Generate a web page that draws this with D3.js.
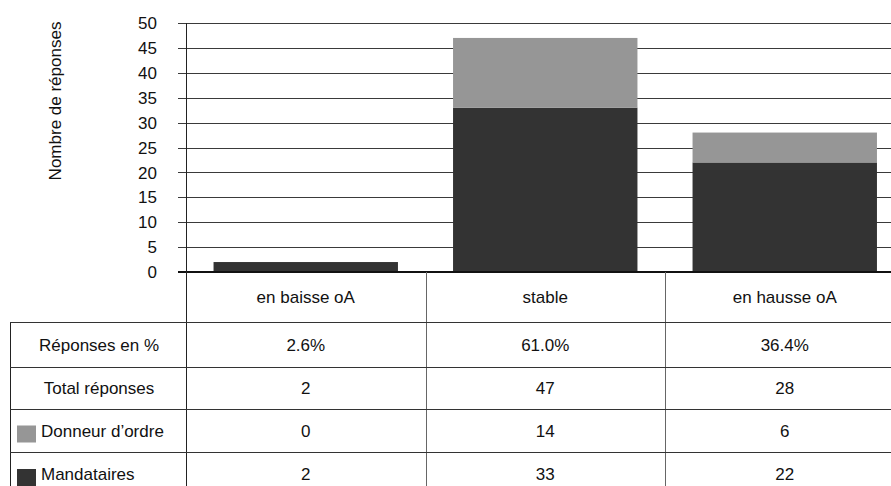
<!DOCTYPE html>
<html>
<head>
<meta charset="utf-8">
<script src="https://cdn.jsdelivr.net/npm/d3@7"></script>
<style>
  body { margin: 0; background: #fff; }
  svg text { font-family: "Liberation Sans", Arial, sans-serif; fill: #111; }
</style>
</head>
<body>
<svg class="chart"></svg>
<script>
// data
var categories = ["en baisse oA", "stable", "en hausse oA"];
var mandataires = [2, 33, 22];
var donneur = [0, 14, 6];
var totals = [2, 47, 28];
var percents = ["2.6%", "61.0%", "36.4%"];
var yTicks = [0, 5, 10, 15, 20, 25, 30, 35, 40, 45, 50];
var rowLabels = ["Réponses en %", "Total réponses", "Donneur d\u2019ordre", "Mandataires"];

var width = 891, height = 486;
var axisX = 186, colW = 239.5;
var yTop = 23, yBase = 272;
var rowY = [272, 322, 367, 409, 452, 497];
var darkCol = "#333333", lightCol = "#969696";
var fontSize = 17;

var svg = d3.select(".chart").attr("width", width).attr("height", height);

var xScale = d3.scaleBand()
  .domain(categories)
  .range([axisX, axisX + 3 * colW])
  .padding(0);

var yScale = d3.scaleLinear()
  .domain([0, 50])
  .range([yBase, yTop]);

// gridlines
svg.append("g").selectAll("line").data(yTicks.filter(d => d > 0))
  .enter().append("line")
  .attr("x1", axisX - 8).attr("x2", width)
  .attr("y1", d => Math.round(yScale(d)) + 0.5)
  .attr("y2", d => Math.round(yScale(d)) + 0.5)
  .style("stroke", "#3a3a3a").style("stroke-width", 1);

// tick labels
svg.append("g").selectAll("text").data(yTicks)
  .enter().append("text")
  .attr("x", 157)
  .attr("y", d => yScale(d))
  .attr("dy", "0.36em")
  .style("text-anchor", "end")
  .style("font-size", fontSize + "px")
  .text(d => d);

// y axis title
svg.append("text")
  .attr("transform", "translate(61,101) rotate(-90)")
  .style("text-anchor", "middle")
  .style("font-size", fontSize + "px")
  .text("Nombre de réponses");

// stacked bars
var barW = colW * 0.77;
var stacked = categories.map((c, i) => ({ cat: c, m: mandataires[i], d: donneur[i] }));

svg.append("g").selectAll("rect").data(stacked)
  .enter().append("rect")
  .attr("x", d => xScale(d.cat) + (xScale.bandwidth() - barW) / 2)
  .attr("y", d => yScale(d.m))
  .attr("width", barW)
  .attr("height", d => yScale(0) - yScale(d.m))
  .style("fill", darkCol);

svg.append("g").selectAll("rect").data(stacked.filter(d => d.d > 0))
  .enter().append("rect")
  .attr("x", d => xScale(d.cat) + (xScale.bandwidth() - barW) / 2)
  .attr("y", d => yScale(d.m + d.d))
  .attr("width", barW)
  .attr("height", d => yScale(d.m) - yScale(d.m + d.d))
  .style("fill", lightCol);

// baseline
svg.append("line")
  .attr("x1", axisX - 8).attr("x2", width)
  .attr("y1", yBase).attr("y2", yBase)
  .style("stroke", "#111").style("stroke-width", 2);

// axis line, runs down through the table
svg.append("line")
  .attr("x1", axisX + 0.5).attr("x2", axisX + 0.5)
  .attr("y1", yTop).attr("y2", height)
  .style("stroke", "#222").style("stroke-width", 1);

// table: column separators
svg.append("g").selectAll("line").data(categories.slice(1))
  .enter().append("line")
  .attr("x1", d => Math.round(xScale(d)) + 0.5)
  .attr("x2", d => Math.round(xScale(d)) + 0.5)
  .attr("y1", yBase).attr("y2", height)
  .style("stroke", "#666").style("stroke-width", 1);

// table: left border
svg.append("line")
  .attr("x1", 10.5).attr("x2", 10.5)
  .attr("y1", rowY[1]).attr("y2", height)
  .style("stroke", "#222").style("stroke-width", 1);

// table: row lines
svg.append("g").selectAll("line").data(rowY.slice(1, 5))
  .enter().append("line")
  .attr("x1", 10).attr("x2", width)
  .attr("y1", d => d + 0.5).attr("y2", d => d + 0.5)
  .style("stroke", "#333").style("stroke-width", 1);

// header row: categories
svg.append("g").selectAll("text").data(categories)
  .enter().append("text")
  .attr("x", d => xScale(d) + xScale.bandwidth() / 2)
  .attr("y", (rowY[0] + rowY[1]) / 2)
  .attr("dy", "0.36em")
  .style("text-anchor", "middle")
  .style("font-size", fontSize + "px")
  .text(d => d);

// value rows
var rows = [percents, totals, donneur, mandataires];
rows.forEach((vals, r) => {
  var cy = (rowY[r + 1] + rowY[r + 2]) / 2;
  if (r == 3) cy = 474;
  svg.append("g").selectAll("text").data(vals)
    .enter().append("text")
    .attr("x", (d, i) => xScale(categories[i]) + xScale.bandwidth() / 2)
    .attr("y", cy)
    .attr("dy", "0.36em")
    .style("text-anchor", "middle")
    .style("font-size", fontSize + "px")
    .text(d => d);

  var lbl = svg.append("text")
    .attr("y", cy)
    .attr("dy", "0.36em")
    .style("font-size", fontSize + "px")
    .text(rowLabels[r]);
  if (r < 2) {
    lbl.attr("x", 99).style("text-anchor", "middle");
  } else {
    lbl.attr("x", 41).style("text-anchor", "start");
    svg.append("rect")
      .attr("x", 17).attr("y", cy - 5)
      .attr("width", 19).attr("height", 17)
      .style("fill", r == 2 ? lightCol : darkCol);
  }
});
</script>
</body>
</html>
